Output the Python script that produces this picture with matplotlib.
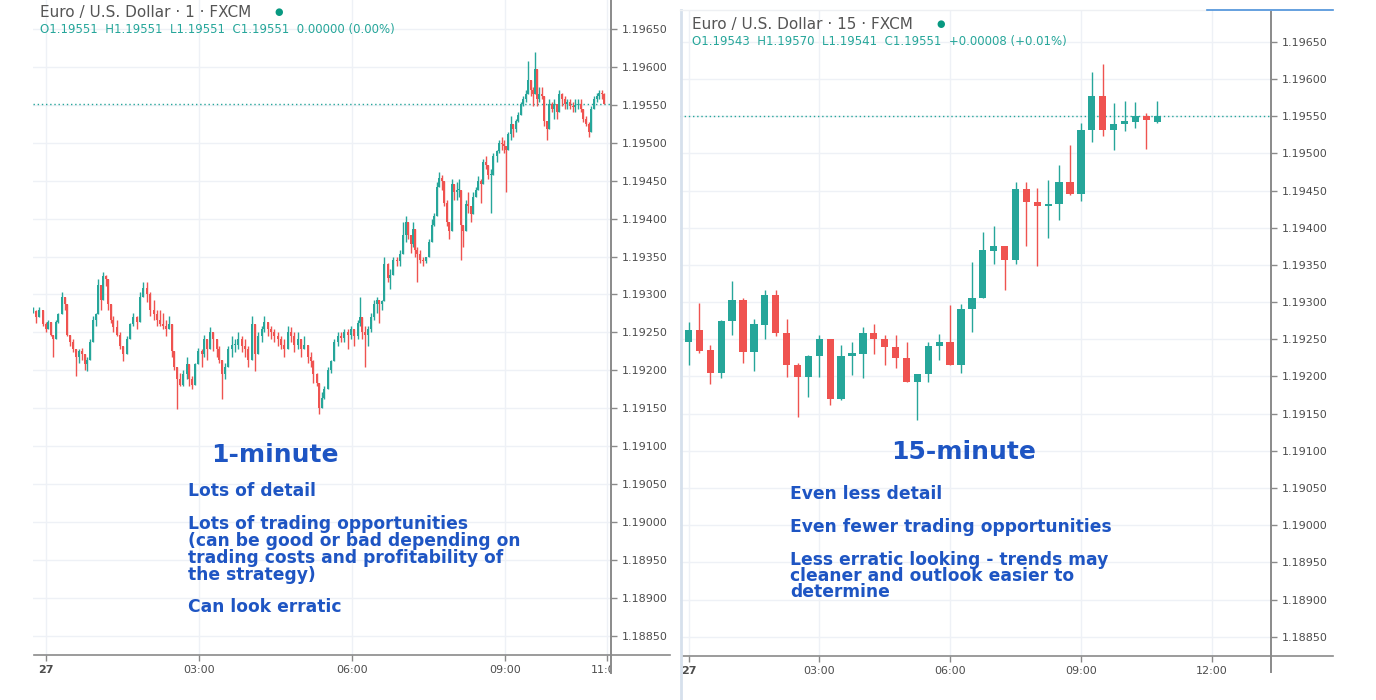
import numpy as np
import matplotlib
matplotlib.use("Agg")
import matplotlib.pyplot as plt
from matplotlib.lines import Line2D
from matplotlib.transforms import Bbox, TransformedBbox

W, H = 1376, 700
UP = "#26a69a"
DOWN = "#ef5350"
GRID = "#eef1f6"
AXIS = "#8a8a8a"
LABEL = "#4d4d4d"
BLUE = "#1e55c3"

# ---- EUR/USD 1-minute (minutes from 00:00 on the 27th) ----
m1_time = [-15, -12, -8, -4, 0, 2, 6, 8, 12, 14, 19, 22, 25, 28, 32, 35, 39, 42, 46, 48,
           52, 55, 59, 61, 65, 67, 71, 73, 76, 79, 84, 87, 91, 95, 99, 102, 107, 111, 114, 119,
           122, 127, 131, 134, 138, 141, 145, 148, 151, 154, 158, 161, 166, 168, 172, 175, 179, 184, 186, 189,
           193, 196, 201, 204, 207, 211, 214, 219, 222, 226, 231, 234, 238, 242, 246, 249, 254, 256, 261, 265,
           268, 273, 276, 280, 285, 288, 292, 296, 300, 304, 308, 312, 314, 319, 321, 325, 327, 332, 335, 339,
           344, 347, 351, 355, 359, 362, 367, 369, 372, 375, 379, 382, 386, 389, 392, 395, 398, 402, 405, 408,
           413, 416, 420, 424, 426, 429, 432, 434, 436, 440, 444, 447, 451, 454, 456, 460, 462, 466, 468, 472,
           474, 478, 480, 484, 486, 488, 491, 494, 496, 500, 502, 506, 508, 512, 514, 518, 520, 524, 526, 531,
           533, 536, 539, 541, 544, 547, 549, 553, 555, 559, 561, 565, 567, 571, 573, 575, 578, 580, 584, 586,
           589, 592, 595, 598, 601, 604, 607, 611, 613, 616, 620, 622, 626, 629, 632, 635, 639, 641, 645, 648,
           651, 654, 656]
m1_high = [1.19283, 1.19280, 1.19284, 1.19271, 1.19264, 1.19267, 1.19258, 1.19247, 1.19267, 1.19276,
           1.19303, 1.19293, 1.19280, 1.19245, 1.19241, 1.19225, 1.19228, 1.19230, 1.19221, 1.19218,
           1.19241, 1.19271, 1.19276, 1.19320, 1.19313, 1.19329, 1.19326, 1.19316, 1.19280, 1.19271,
           1.19267, 1.19250, 1.19232, 1.19245, 1.19263, 1.19276, 1.19271, 1.19303, 1.19317, 1.19317,
           1.19303, 1.19293, 1.19280, 1.19280, 1.19276, 1.19267, 1.19271, 1.19254, 1.19218, 1.19197,
           1.19197, 1.19201, 1.19218, 1.19197, 1.19192, 1.19210, 1.19230, 1.19228, 1.19247, 1.19237,
           1.19257, 1.19247, 1.19241, 1.19232, 1.19201, 1.19210, 1.19232, 1.19245, 1.19241, 1.19250,
           1.19245, 1.19241, 1.19232, 1.19271, 1.19228, 1.19250, 1.19258, 1.19271, 1.19263, 1.19258,
           1.19254, 1.19250, 1.19245, 1.19241, 1.19258, 1.19257, 1.19250, 1.19250, 1.19241, 1.19245,
           1.19232, 1.19224, 1.19214, 1.19197, 1.19179, 1.19171, 1.19179, 1.19205, 1.19214, 1.19241,
           1.19250, 1.19250, 1.19254, 1.19254, 1.19258, 1.19250, 1.19267, 1.19297, 1.19263, 1.19258,
           1.19258, 1.19276, 1.19293, 1.19297, 1.19293, 1.19293, 1.19350, 1.19342, 1.19333, 1.19350,
           1.19350, 1.19359, 1.19395, 1.19403, 1.19396, 1.19377, 1.19396, 1.19373, 1.19363, 1.19359,
           1.19350, 1.19350, 1.19373, 1.19399, 1.19408, 1.19448, 1.19461, 1.19458, 1.19442, 1.19425,
           1.19390, 1.19452, 1.19442, 1.19448, 1.19452, 1.19399, 1.19390, 1.19425, 1.19435, 1.19416,
           1.19435, 1.19442, 1.19456, 1.19452, 1.19478, 1.19482, 1.19465, 1.19465, 1.19487, 1.19491,
           1.19504, 1.19508, 1.19504, 1.19495, 1.19514, 1.19535, 1.19522, 1.19531, 1.19540, 1.19553,
           1.19561, 1.19570, 1.19607, 1.19583, 1.19574, 1.19619, 1.19593, 1.19574, 1.19574, 1.19544,
           1.19522, 1.19557, 1.19553, 1.19557, 1.19548, 1.19570, 1.19566, 1.19561, 1.19557, 1.19557,
           1.19553, 1.19557, 1.19557, 1.19557, 1.19540, 1.19535, 1.19527, 1.19548, 1.19561, 1.19566,
           1.19570, 1.19570, 1.19566]
m1_low = [1.19276, 1.19263, 1.19271, 1.19258, 1.19250, 1.19258, 1.19245, 1.19218, 1.19245, 1.19263,
          1.19284, 1.19280, 1.19245, 1.19232, 1.19224, 1.19192, 1.19210, 1.19214, 1.19201, 1.19199,
          1.19218, 1.19245, 1.19258, 1.19297, 1.19280, 1.19311, 1.19311, 1.19280, 1.19263, 1.19250,
          1.19245, 1.19228, 1.19212, 1.19228, 1.19245, 1.19258, 1.19254, 1.19284, 1.19297, 1.19290,
          1.19271, 1.19267, 1.19258, 1.19258, 1.19254, 1.19245, 1.19254, 1.19218, 1.19201, 1.19149,
          1.19179, 1.19179, 1.19188, 1.19179, 1.19175, 1.19188, 1.19214, 1.19205, 1.19218, 1.19214,
          1.19232, 1.19225, 1.19218, 1.19210, 1.19162, 1.19188, 1.19205, 1.19218, 1.19224, 1.19228,
          1.19224, 1.19218, 1.19205, 1.19232, 1.19199, 1.19232, 1.19237, 1.19250, 1.19245, 1.19241,
          1.19237, 1.19232, 1.19228, 1.19218, 1.19232, 1.19237, 1.19224, 1.19228, 1.19218, 1.19228,
          1.19210, 1.19205, 1.19184, 1.19179, 1.19142, 1.19151, 1.19162, 1.19179, 1.19197, 1.19218,
          1.19232, 1.19237, 1.19237, 1.19228, 1.19241, 1.19232, 1.19241, 1.19258, 1.19241, 1.19205,
          1.19232, 1.19250, 1.19267, 1.19276, 1.19263, 1.19280, 1.19293, 1.19316, 1.19307, 1.19333,
          1.19337, 1.19337, 1.19363, 1.19369, 1.19373, 1.19355, 1.19363, 1.19350, 1.19316, 1.19342,
          1.19337, 1.19342, 1.19355, 1.19377, 1.19390, 1.19429, 1.19442, 1.19438, 1.19416, 1.19390,
          1.19373, 1.19416, 1.19425, 1.19425, 1.19429, 1.19346, 1.19363, 1.19399, 1.19408, 1.19395,
          1.19416, 1.19429, 1.19438, 1.19421, 1.19461, 1.19465, 1.19452, 1.19408, 1.19465, 1.19474,
          1.19487, 1.19491, 1.19487, 1.19435, 1.19495, 1.19504, 1.19508, 1.19514, 1.19527, 1.19540,
          1.19548, 1.19553, 1.19570, 1.19561, 1.19548, 1.19580, 1.19548, 1.19553, 1.19557, 1.19522,
          1.19504, 1.19531, 1.19540, 1.19531, 1.19531, 1.19553, 1.19548, 1.19544, 1.19544, 1.19544,
          1.19540, 1.19540, 1.19544, 1.19540, 1.19527, 1.19522, 1.19507, 1.19522, 1.19548, 1.19553,
          1.19557, 1.19557, 1.19553]
m1_close = [1.19278, 1.19270, 1.19280, 1.19261, 1.19254, 1.19264, 1.19247, 1.19241, 1.19264, 1.19274,
            1.19297, 1.19287, 1.19247, 1.19238, 1.19228, 1.19217, 1.19225, 1.19221, 1.19208, 1.19214,
            1.19238, 1.19267, 1.19274, 1.19313, 1.19293, 1.19324, 1.19320, 1.19287, 1.19267, 1.19257,
            1.19247, 1.19232, 1.19221, 1.19241, 1.19261, 1.19270, 1.19264, 1.19297, 1.19309, 1.19300,
            1.19280, 1.19274, 1.19267, 1.19261, 1.19258, 1.19254, 1.19261, 1.19225, 1.19204, 1.19188,
            1.19181, 1.19195, 1.19208, 1.19188, 1.19181, 1.19208, 1.19225, 1.19221, 1.19241, 1.19228,
            1.19251, 1.19241, 1.19228, 1.19214, 1.19195, 1.19204, 1.19228, 1.19234, 1.19234, 1.19241,
            1.19232, 1.19228, 1.19214, 1.19261, 1.19221, 1.19245, 1.19254, 1.19264, 1.19254, 1.19251,
            1.19245, 1.19241, 1.19234, 1.19228, 1.19250, 1.19245, 1.19234, 1.19241, 1.19228, 1.19234,
            1.19218, 1.19212, 1.19195, 1.19184, 1.19151, 1.19164, 1.19175, 1.19201, 1.19212, 1.19238,
            1.19245, 1.19243, 1.19250, 1.19247, 1.19254, 1.19245, 1.19263, 1.19270, 1.19251, 1.19247,
            1.19254, 1.19270, 1.19287, 1.19293, 1.19287, 1.19291, 1.19340, 1.19322, 1.19326, 1.19346,
            1.19344, 1.19353, 1.19379, 1.19396, 1.19379, 1.19366, 1.19386, 1.19359, 1.19353, 1.19346,
            1.19344, 1.19349, 1.19369, 1.19392, 1.19403, 1.19442, 1.19454, 1.19449, 1.19421, 1.19396,
            1.19383, 1.19445, 1.19435, 1.19438, 1.19438, 1.19392, 1.19383, 1.19419, 1.19416, 1.19406,
            1.19428, 1.19438, 1.19449, 1.19445, 1.19474, 1.19471, 1.19458, 1.19458, 1.19482, 1.19489,
            1.19500, 1.19498, 1.19495, 1.19491, 1.19511, 1.19524, 1.19518, 1.19528, 1.19537, 1.19551,
            1.19557, 1.19564, 1.19583, 1.19570, 1.19564, 1.19597, 1.19557, 1.19564, 1.19561, 1.19528,
            1.19518, 1.19551, 1.19544, 1.19551, 1.19541, 1.19564, 1.19557, 1.19551, 1.19553, 1.19548,
            1.19547, 1.19549, 1.19551, 1.19544, 1.19531, 1.19524, 1.19514, 1.19544, 1.19557, 1.19561,
            1.19566, 1.19564, 1.19551]

# ---- EUR/USD 15-minute candles, bar i opens at i*15 min after 00:00 ----
m15_open = [1.19246, 1.19263, 1.19235, 1.19205, 1.19274, 1.19303, 1.19233, 1.19269, 1.19310, 1.19258,
            1.19216, 1.19199, 1.19227, 1.19250, 1.19170, 1.19227, 1.19230, 1.19259, 1.19251, 1.19239,
            1.19225, 1.19192, 1.19204, 1.19241, 1.19246, 1.19216, 1.19291, 1.19306, 1.19369, 1.19375,
            1.19357, 1.19452, 1.19435, 1.19429, 1.19432, 1.19461, 1.19446, 1.19531, 1.19577, 1.19531,
            1.19539, 1.19543, 1.19550, 1.19543]
m15_high = [1.19273, 1.19299, 1.19243, 1.19276, 1.19328, 1.19305, 1.19278, 1.19316, 1.19317, 1.19278,
            1.19218, 1.19229, 1.19256, 1.19251, 1.19242, 1.19247, 1.19267, 1.19271, 1.19256, 1.19256,
            1.19246, 1.19204, 1.19247, 1.19257, 1.19296, 1.19297, 1.19354, 1.19394, 1.19403, 1.19376,
            1.19461, 1.19461, 1.19453, 1.19464, 1.19485, 1.19512, 1.19541, 1.19609, 1.19621, 1.19568,
            1.19571, 1.19569, 1.19555, 1.19570]
m15_low = [1.19216, 1.19232, 1.19190, 1.19198, 1.19256, 1.19218, 1.19208, 1.19250, 1.19255, 1.19199,
           1.19146, 1.19173, 1.19199, 1.19162, 1.19169, 1.19202, 1.19198, 1.19230, 1.19215, 1.19212,
           1.19192, 1.19141, 1.19192, 1.19222, 1.19216, 1.19205, 1.19260, 1.19305, 1.19351, 1.19317,
           1.19351, 1.19376, 1.19348, 1.19386, 1.19410, 1.19444, 1.19436, 1.19515, 1.19523, 1.19504,
           1.19530, 1.19534, 1.19506, 1.19541]
m15_close = [1.19263, 1.19234, 1.19205, 1.19275, 1.19303, 1.19233, 1.19270, 1.19310, 1.19258, 1.19215,
             1.19199, 1.19228, 1.19250, 1.19170, 1.19227, 1.19231, 1.19258, 1.19250, 1.19239, 1.19225,
             1.19192, 1.19203, 1.19241, 1.19246, 1.19216, 1.19291, 1.19306, 1.19370, 1.19375, 1.19357,
             1.19452, 1.19435, 1.19429, 1.19432, 1.19461, 1.19446, 1.19531, 1.19577, 1.19531, 1.19540,
             1.19544, 1.19550, 1.19545, 1.19551]

price_ticks = [1.18850, 1.18900, 1.18950, 1.19000, 1.19050, 1.19100, 1.19150, 1.19200, 1.19250,
               1.19300, 1.19350, 1.19400, 1.19450, 1.19500, 1.19550, 1.19600, 1.19650]
left_time_ticks = [0, 180, 360, 540, 660]
left_time_labels = ["27", "03:00", "06:00", "09:00", "11:00"]
right_time_ticks = [0, 180, 360, 540, 720]
right_time_labels = ["27", "03:00", "06:00", "09:00", "12:00"]

left_notes = ["Lots of detail", "Lots of trading opportunities", "(can be good or bad depending on",
              "trading costs and profitability of", "the strategy)", "Can look erratic"]
right_notes = ["Even less detail", "Even fewer trading opportunities", "Less erratic looking - trends may",
               "cleaner and outlook easier to", "determine"]

fig = plt.figure(figsize=(W / 100, H / 100), dpi=100)
fig.patch.set_facecolor("white")


def px_axes(x0, y0, x1, y1):
    return fig.add_axes([x0 / W, 1 - y1 / H, (x1 - x0) / W, (y1 - y0) / H])


def fig_line(x0, y0, x1, y1, color, lw=1.0):
    fig.add_artist(Line2D([x0 / W, x1 / W], [1 - y0 / H, 1 - y1 / H],
                          transform=fig.transFigure, color=color, lw=lw))


def fig_text(x, y, s, **kw):
    fig.text(x / W, 1 - y / H, s, va="center", **kw)


def candles(ax, t, o, h, l, c, width):
    t, o, h, l, c = map(np.asarray, (t, o, h, l, c))
    col = np.where(c >= o, UP, DOWN)
    lo = np.minimum(np.minimum(l, o), c)
    hi = np.maximum(np.maximum(h, o), c)
    ax.vlines(t, lo, hi, colors=col, lw=1.0, zorder=3)
    ax.bar(t, np.maximum(np.abs(c - o), 0.000012), bottom=np.minimum(o, c),
           width=width, color=col, linewidth=0, zorder=4)


def style(ax, xticks, xlabels, xlim, ylim):
    ax.set_xlim(*xlim)
    ax.set_ylim(*ylim)
    for s in ax.spines.values():
        s.set_visible(False)
    ax.yaxis.tick_right()
    ax.set_yticks(price_ticks)
    ax.set_yticklabels([f"{p:.5f}" for p in price_ticks])
    ax.set_xticks(xticks)
    ax.set_xticklabels(xlabels)
    ax.tick_params(axis="y", length=4, width=1, color=AXIS, pad=4, labelsize=8, labelcolor=LABEL)
    ax.tick_params(axis="x", length=4, width=1, color=AXIS, pad=3, labelsize=8, labelcolor=LABEL)
    ax.get_xticklabels()[0].set_fontweight("bold")
    ax.grid(True, color=GRID, lw=1, zorder=0)
    ax.set_axisbelow(True)


# left: 1-minute
ax1 = px_axes(33, 0, 611, 655)
m1_open = np.r_[m1_close[0], m1_close[:-1]]
candles(ax1, m1_time, m1_open, m1_high, m1_low, m1_close, 2.3)
ax1.axhline(m1_close[-1], color=UP, lw=1, ls=(0, (1, 2)), zorder=2)
style(ax1, left_time_ticks, left_time_labels, (-15.3, 664.7), (1.18825, 1.19688))
clip = TransformedBbox(Bbox([[0, 0], [611 / W, 1]]), fig.transFigure)
lbl = ax1.get_xticklabels()[-1]
lbl.set_clip_on(True)
lbl.set_clip_box(clip)

# right: 15-minute
ax2 = px_axes(680, 10, 1271, 656)
m15_time = np.arange(len(m15_close)) * 15
candles(ax2, m15_time, m15_open, m15_high, m15_low, m15_close, 10)
ax2.axhline(m15_close[-1], color=UP, lw=1, ls=(0, (1, 2)), zorder=2)
style(ax2, right_time_ticks, right_time_labels, (-11.7, 801.6), (1.18824, 1.19693))

# scale / border lines
fig_line(611, 0, 611, 673, AXIS, 1.4)
fig_line(34, 655, 670, 655, AXIS, 1.2)
fig_line(1271, 12, 1271, 672, AXIS, 1.4)
fig_line(682, 656, 1333, 656, AXIS, 1.2)
fig_line(680.5, 10, 680.5, 700, "#d6e0ec", 2)
fig_line(680, 10, 1207, 10, "#eef0f3", 1)
fig_line(1207, 10, 1333, 10, "#4a90d9", 1.2)

# headers
fig_text(40, 12, "Euro / U.S. Dollar · 1 · FXCM", fontsize=11, color="#555555")
fig_text(279, 12, "●", fontsize=7, color="#089981", ha="center")
fig_text(40, 29, "O1.19551  H1.19551  L1.19551  C1.19551  0.00000 (0.00%)", fontsize=8.5, color=UP)
fig_text(692, 24, "Euro / U.S. Dollar · 15 · FXCM", fontsize=11, color="#555555")
fig_text(941, 24, "●", fontsize=7, color="#089981", ha="center")
fig_text(692, 42, "O1.19543  H1.19570  L1.19541  C1.19551  +0.00008 (+0.01%)", fontsize=8.5, color=UP)

# annotations
fig_text(275, 455, "1-minute", fontsize=18, fontweight="bold", color=BLUE, ha="center")
fig_text(964, 452, "15-minute", fontsize=18, fontweight="bold", color=BLUE, ha="center")
for s, y in zip(left_notes, [491, 524, 541, 558, 575, 607]):
    fig_text(188, y, s, fontsize=12.3, fontweight="semibold", color=BLUE)
for s, y in zip(right_notes, [494, 527, 560, 576, 592]):
    fig_text(790, y, s, fontsize=12.3, fontweight="semibold", color=BLUE)

fig.savefig("out.png", dpi=100, facecolor="white")
